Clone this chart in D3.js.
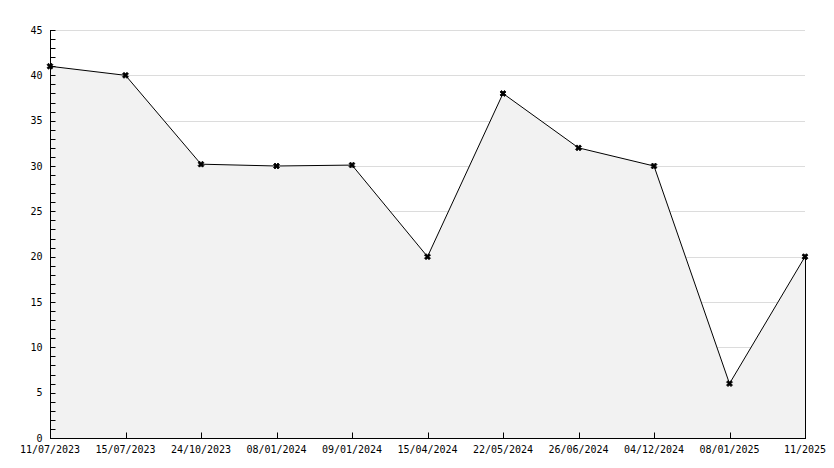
<!DOCTYPE html>
<meta charset="utf-8" />
<style>
  body { margin: 0; background: #fff; }
  text { font-family: "DejaVu Sans Mono", monospace; font-size: 10px; fill: #000; }
</style>
<body>
<script src="https://d3js.org/d3.v7.min.js"></script>
<script>
  var dates = ["11/07/2023", "15/07/2023", "24/10/2023", "08/01/2024", "09/01/2024",
    "15/04/2024", "22/05/2024", "26/06/2024", "04/12/2024", "08/01/2025", "11/2025"];
  var values = [41, 40, 30.2, 30, 30.1, 20, 38, 32, 30, 6, 20];
  var yTicks = [0, 5, 10, 15, 20, 25, 30, 35, 40, 45];

  var plotLeft = 50, plotRight = 805, plotTop = 30, plotBottom = 438;

  var svg = d3.select("body").append("svg").attr("width", 834).attr("height", 468);

  var x = d3.scalePoint().domain(dates).range([plotLeft, plotRight]);
  var y = d3.scaleLinear().domain([0, 45]).range([plotBottom, plotTop]);

  // grid lines
  svg.append("g").selectAll("line").data(yTicks.slice(1)).enter().append("line")
    .attr("x1", plotLeft).attr("x2", plotRight)
    .attr("y1", function(d) { return Math.round(y(d)) + 0.5; }).attr("y2", function(d) { return Math.round(y(d)) + 0.5; })
    .attr("stroke", "#dcdcdc");

  // area fill
  var pts = dates.map(function(d, i) { return [x(d), y(values[i])]; });
  svg.append("path")
    .attr("d", d3.area().x(function(p) { return p[0]; }).y0(plotBottom).y1(function(p) { return p[1]; })(pts))
    .attr("fill", "#f2f2f2");

  // right border
  svg.append("line").attr("x1", plotRight + 0.5).attr("x2", plotRight + 0.5).attr("y1", y(values[10])).attr("y2", plotBottom)
    .attr("stroke", "#000");

  // line
  svg.append("path")
    .attr("d", d3.line()(pts))
    .attr("fill", "none").attr("stroke", "#000").attr("stroke-width", 1);

  // markers
  svg.append("g").selectAll("path").data(pts).enter().append("path")
    .attr("d", d3.symbol().type(d3.symbolCross).size(22))
    .attr("transform", function(p) { return "translate(" + p[0] + "," + p[1] + ") rotate(45)"; })
    .attr("fill", "#000").attr("stroke", "#000").attr("stroke-width", 0.8);

  // y axis
  var yAxis = svg.append("g").attr("transform", "translate(" + (plotLeft + 0.5) + ",0)");
  yAxis.append("line").attr("y1", plotTop).attr("y2", plotBottom).attr("stroke", "#000");
  yAxis.selectAll(".minor").data(d3.range(0, 46)).enter().append("line")
    .attr("x1", 0).attr("x2", 5)
    .attr("y1", function(d) { return Math.round(y(d)) + 0.5; }).attr("y2", function(d) { return Math.round(y(d)) + 0.5; })
    .attr("stroke", "#000");
  yAxis.selectAll("text").data(yTicks).enter().append("text")
    .attr("x", -8).attr("y", function(d) { return y(d); }).attr("dy", "0.35em")
    .attr("text-anchor", "end").text(function(d) { return d; });

  // x axis
  var xAxis = svg.append("g").attr("transform", "translate(0," + (plotBottom + 0.5) + ")");
  xAxis.append("line").attr("x1", plotLeft).attr("x2", plotRight + 1).attr("stroke", "#000");
  xAxis.selectAll(".tick").data(dates).enter().append("line")
    .attr("x1", function(d) { return Math.round(x(d)) + 0.5; }).attr("x2", function(d) { return Math.round(x(d)) + 0.5; })
    .attr("y1", 0).attr("y2", -6).attr("stroke", "#000");
  xAxis.selectAll("text").data(dates).enter().append("text")
    .attr("x", function(d) { return x(d); }).attr("y", 14)
    .attr("text-anchor", "middle").text(function(d) { return d; });
</script>
</body>
